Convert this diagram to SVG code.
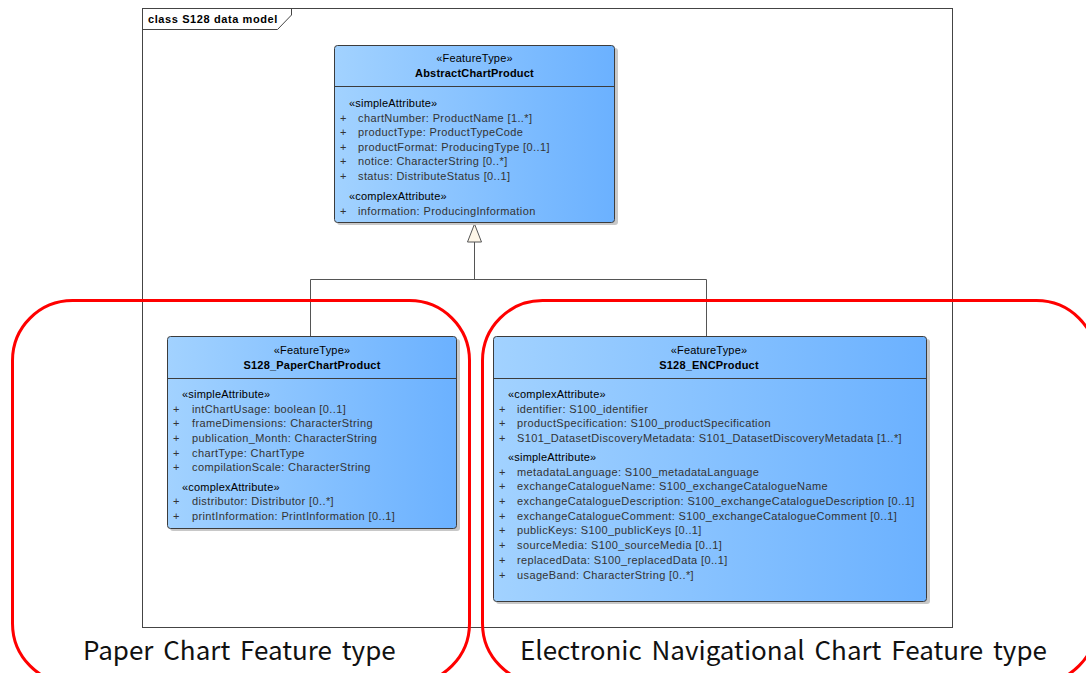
<svg xmlns="http://www.w3.org/2000/svg" width="1086" height="673" viewBox="0 0 1086 673">
<defs>
<linearGradient id="g" x1="0" y1="0" x2="1" y2="0">
<stop offset="0" stop-color="#A2D2FF"/>
<stop offset="1" stop-color="#6BB1FF"/>
</linearGradient>
<style>
.box{fill:url(#g);stroke:#3c3c3c;stroke-width:1}
.shadow{fill:#c8c8c8}
.div{stroke:#3c3c3c;stroke-width:1}
.t{font-family:"Liberation Sans",Arial,sans-serif;font-size:11px;fill:#000;letter-spacing:0.2px}
.b{font-weight:bold}
.a{font-family:"Liberation Sans",Arial,sans-serif;font-size:11px;fill:#333;letter-spacing:0.38px}
.c{stroke:#555;stroke-width:1;fill:none}
.red{fill:none;stroke:#ff0000;stroke-width:3}
.lbl{font-family:"Noto Sans CJK KR","Noto Sans",sans-serif;font-size:26px;fill:#111;word-spacing:4px}
</style>
</defs>
<rect width="1086" height="673" fill="#fff"/>
<g id="frame">
<rect x="142.5" y="8.5" width="810" height="619" fill="none" stroke="#444" stroke-width="1"/>
<path d="M142.5 29.5 H277.5 L291.5 15 V8.5" fill="none" stroke="#444" stroke-width="1"/>
<text class="t b" x="148" y="23" style="letter-spacing:0.6px">class S128 data model</text>
</g>
<g id="connectors">
<path class="c" d="M474.5 242 V279.5 M310.5 279.5 H706.5 M310.5 279.5 V336 M706.5 279.5 V336"/>
<path d="M474.5 224 L467.5 242 H481.5 Z" fill="#fdf6e8" stroke="#555" stroke-width="1"/>
</g>
<g id="AbstractChartProduct">
<rect class="shadow" x="337" y="48" width="281" height="177" rx="3"/>
<rect class="box" x="334.5" y="45.5" width="280" height="177" rx="3"/>
<line class="div" x1="334.5" y1="86.5" x2="614.5" y2="86.5"/>
<text class="t" x="474.5" y="62" text-anchor="middle">«FeatureType»</text>
<text class="t b" x="474.5" y="77" text-anchor="middle">AbstractChartProduct</text>
<text class="t" x="349" y="107">«simpleAttribute»</text>
<g class="a">
<text x="340" y="122">+</text><text x="358" y="122">chartNumber: ProductName [1..*]</text>
<text x="340" y="136">+</text><text x="358" y="136">productType: ProductTypeCode</text>
<text x="340" y="151">+</text><text x="358" y="151">productFormat: ProducingType [0..1]</text>
<text x="340" y="165">+</text><text x="358" y="165">notice: CharacterString [0..*]</text>
<text x="340" y="180">+</text><text x="358" y="180">status: DistributeStatus [0..1]</text>
</g>
<text class="t" x="349" y="200">«complexAttribute»</text>
<g class="a">
<text x="340" y="215">+</text><text x="358" y="215">information: ProducingInformation</text>
</g>
</g>
<g id="S128_PaperChartProduct">
<rect class="shadow" x="170" y="339" width="290" height="192" rx="3"/>
<rect class="box" x="167.5" y="336.5" width="289" height="192" rx="3"/>
<line class="div" x1="167.5" y1="378.5" x2="456.5" y2="378.5"/>
<text class="t" x="312" y="354" text-anchor="middle">«FeatureType»</text>
<text class="t b" x="312" y="369" text-anchor="middle">S128_PaperChartProduct</text>
<text class="t" x="182" y="398">«simpleAttribute»</text>
<g class="a">
<text x="173" y="413">+</text><text x="192" y="413">intChartUsage: boolean [0..1]</text>
<text x="173" y="427">+</text><text x="192" y="427">frameDimensions: CharacterString</text>
<text x="173" y="442">+</text><text x="192" y="442">publication_Month: CharacterString</text>
<text x="173" y="457">+</text><text x="192" y="457">chartType: ChartType</text>
<text x="173" y="471">+</text><text x="192" y="471">compilationScale: CharacterString</text>
</g>
<text class="t" x="182" y="491">«complexAttribute»</text>
<g class="a">
<text x="173" y="505">+</text><text x="192" y="505">distributor: Distributor [0..*]</text>
<text x="173" y="520">+</text><text x="192" y="520">printInformation: PrintInformation [0..1]</text>
</g>
</g>
<g id="S128_ENCProduct">
<rect class="shadow" x="496" y="339" width="434" height="265" rx="3"/>
<rect class="box" x="493.5" y="336.5" width="433" height="265" rx="3"/>
<line class="div" x1="493.5" y1="378.5" x2="926.5" y2="378.5"/>
<text class="t" x="709" y="354" text-anchor="middle">«FeatureType»</text>
<text class="t b" x="709" y="369" text-anchor="middle">S128_ENCProduct</text>
<text class="t" x="508" y="398">«complexAttribute»</text>
<g class="a">
<text x="499" y="413">+</text><text x="517" y="413">identifier: S100_identifier</text>
<text x="499" y="427">+</text><text x="517" y="427">productSpecification: S100_productSpecification</text>
<text x="499" y="442">+</text><text x="517" y="442">S101_DatasetDiscoveryMetadata: S101_DatasetDiscoveryMetadata [1..*]</text>
</g>
<text class="t" x="508" y="461">«simpleAttribute»</text>
<g class="a">
<text x="499" y="476">+</text><text x="517" y="476">metadataLanguage: S100_metadataLanguage</text>
<text x="499" y="490">+</text><text x="517" y="490">exchangeCatalogueName: S100_exchangeCatalogueName</text>
<text x="499" y="505">+</text><text x="517" y="505">exchangeCatalogueDescription: S100_exchangeCatalogueDescription [0..1]</text>
<text x="499" y="520">+</text><text x="517" y="520">exchangeCatalogueComment: S100_exchangeCatalogueComment [0..1]</text>
<text x="499" y="534">+</text><text x="517" y="534">publicKeys: S100_publicKeys [0..1]</text>
<text x="499" y="549">+</text><text x="517" y="549">sourceMedia: S100_sourceMedia [0..1]</text>
<text x="499" y="564">+</text><text x="517" y="564">replacedData: S100_replacedData [0..1]</text>
<text x="499" y="579">+</text><text x="517" y="579">usageBand: CharacterString [0..*]</text>
</g>
</g>
<g id="paper-highlight">
<rect class="red" x="12.5" y="300.5" width="457" height="383" rx="60"/>
<text class="lbl" x="83" y="660">Paper Chart Feature type</text>
</g>
<g id="enc-highlight">
<rect class="red" x="482.5" y="300.5" width="614" height="383" rx="60"/>
<text class="lbl" x="520" y="660">Electronic Navigational Chart Feature type</text>
</g>
</svg>
